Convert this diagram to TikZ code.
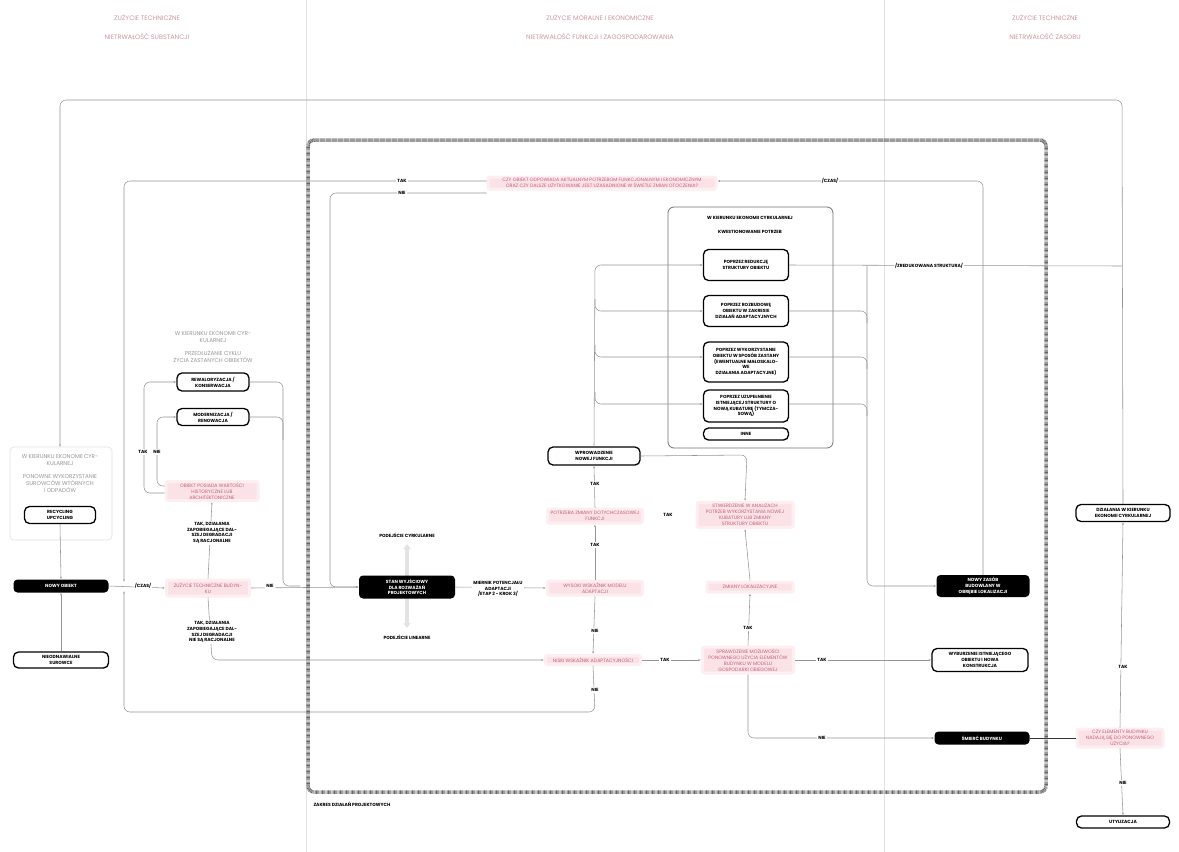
\documentclass[tikz,border=0pt]{standalone}
\usepackage{fontspec}
\setmainfont{Poppins}
\usetikzlibrary{arrows.meta,calc}
\definecolor{pinkbg}{RGB}{251,226,231}
\definecolor{pinkhalo}{RGB}{253,238,241}
\definecolor{pinktx}{RGB}{196,96,120}
\definecolor{hdrtx}{RGB}{205,150,160}
\definecolor{lgray}{RGB}{150,150,150}
\definecolor{vlgray}{RGB}{225,225,225}
\newcommand\fb{\fontsize{4.5}{5.8}\selectfont\bfseries}
\newcommand\fr{\fontsize{4.8}{6}\selectfont}
\newcommand\fg{\fontsize{5.6}{7}\selectfont}
\newcommand\fh{\fontsize{6.5}{8}\selectfont}
\tikzset{
  conn/.style={draw=lgray, line width=0.55pt, rounded corners=6pt},
  arr/.style={-{Latex[length=2.4pt,width=1.8pt]}},
  blk/.style={fill=black, text=white, rounded corners=4pt, align=center, font=\fb, inner sep=1pt},
  wbx/.style={draw=black, line width=1.3pt, fill=white, rounded corners=5pt, align=center, font=\fb, inner sep=1pt},
  pnk/.style={fill=pinkbg, draw=pinkhalo, line width=3pt, text=pinktx, align=center, font=\fr, inner sep=1pt, rounded corners=2pt},
  lab/.style={font=\fb, fill=white, inner sep=1pt, align=center},
  gtx/.style={font=\fg, text=lgray, align=center},
  htx/.style={font=\fh, text=hdrtx, align=center},
  frame/.style={draw=black!60, line width=3.5pt, dash pattern=on 0.6pt off 0.6pt, rounded corners=6pt}
}
\begin{document}
\begin{tikzpicture}[x=1pt,y=-1pt]
\fill[white] (0,0) rectangle (1179,852);
\useasboundingbox (0,0) rectangle (1179,852);

% column dividers
\draw[vlgray, line width=0.6pt] (306,0) -- (306,852);
\draw[vlgray, line width=0.6pt] (884,0) -- (884,852);

% column headers
\node[htx] (hL1) at (147,18) {ZUŻYCIE TECHNICZNE};
\node[htx] (hL2) at (147,36) {NIETRWAŁOŚĆ SUBSTANCJI};
\node[htx] (hM1) at (600,18) {ZUŻYCIE MORALNE I EKONOMICZNE};
\node[htx] (hM2) at (600,36) {NIETRWAŁOŚĆ FUNKCJI I ZAGOSPODAROWANIA};
\node[htx] (hR1) at (1045,18) {ZUŻYCIE TECHNICZNE};
\node[htx] (hR2) at (1045,36) {NIETRWAŁOŚĆ ZASOBU};

% left grey group
\draw[vlgray, line width=0.6pt, rounded corners=4pt] (10,447) rectangle (112,540);
\node[gtx] (gL1) at (60,460) {W KIERUNKU EKONOMII CYR-\\KULARNEJ};
\node[gtx] (gL2) at (60,484) {PONOWNE WYKORZYSTANIE\\SUROWCÓW WTÓRNYCH\\I ODPADÓW};
\coordinate (gtop) at (60,447);

% nodes: left column
\node[wbx, minimum width=71pt, minimum height=17pt] (recyc) at (60,515) {RECYCLING\\UPCYCLING};
\node[blk, minimum width=95pt, minimum height=13pt] (nowy) at (61,586) {NOWY OBIEKT};
\node[wbx, minimum width=95pt, minimum height=16pt] (nieod) at (61,660) {NIEODNAWIALNE\\SUROWCE};

\node[pnk, minimum width=83pt, minimum height=16pt] (zuz) at (208,588) {ZUŻYCIE TECHNICZNE BUDYN-\\KU};
\node[pnk, minimum width=92pt, minimum height=19pt] (obh) at (212,491) {OBIEKT POSIADA WARTOŚCI\\HISTORYCZNE LUB\\ARCHITEKTONICZNE};
\node[gtx] (gM1) at (213,337) {W KIERUNKU EKONOMII CYR-\\KULARNEJ};
\node[gtx] (gM2) at (213,357) {PRZEDŁUŻANIE CYKLU\\ŻYCIA ZASTANYCH OBIEKTÓW};
\node[wbx, minimum width=72pt, minimum height=18pt] (rewal) at (213,382) {REWALORYZACJA /\\KONSERWACJA};
\node[wbx, minimum width=72pt, minimum height=17pt] (modern) at (213,417) {MODERNIZACJA /\\RENOWACJA};

% approach axis and the starting state on top of it
\draw[gray!22, line width=3.5pt, {Triangle[length=5pt,width=7pt]}-{Triangle[length=5pt,width=7pt]}] (407,544) -- (407,628);
\node[blk, minimum width=96pt, minimum height=23pt] (stan) at (407,587) {STAN WYJŚCIOWY\\DLA ROZWAŻAŃ\\PROJEKTOWYCH};
\node[font=\fb] (podc) at (407,535) {PODEJŚCIE CYRKULARNE};
\node[font=\fb] (podl) at (407,637) {PODEJŚCIE LINEARNE};

% nodes: centre
\node[pnk, minimum width=228pt, minimum height=12pt] (qtop) at (602,183) {CZY OBIEKT ODPOWIADA AKTUALNYM POTRZEBOM FUNKCJONALNYM I EKONOMICZNYM\\ORAZ CZY DALSZE UŻYTKOWANIE JEST UZASADNIONE W ŚWIETLE ZMIAN OTOCZENIA?};
\node[pnk, minimum width=95pt, minimum height=14pt] (wys) at (595,588) {WYSOKI WSKAŹNIK MODELU\\ADAPTACJI};
\node[pnk, minimum width=95pt, minimum height=14pt] (zap) at (595,516) {POTRZEBA ZMIANY DOTYCHCZASOWEJ\\FUNKCJI};
\node[wbx, minimum width=92pt, minimum height=18pt] (wpr) at (594,456) {WPROWADZENIE\\NOWEJ FUNKCJI};
\node[pnk, minimum width=95pt, minimum height=9pt] (nis) at (593,660) {NISKI WSKAŹNIK ADAPTACYJNOŚCI};
\node[pnk, minimum width=96pt, minimum height=25pt] (stw) at (745,515) {STWIERDZENIE W ANALIZACH\\POTRZEB WYKORZYSTANIA NOWEJ\\KUBATURY LUB ZMIANY\\STRUKTURY OBIEKTU};
\node[pnk, minimum width=86pt, minimum height=10pt] (zmi) at (750,587) {ZMIANY LOKALIZACYJNE};
\node[pnk, minimum width=91pt, minimum height=26pt] (spr) at (748,660) {SPRAWDZENIE MOŻLIWOŚCI\\PONOWNEGO UŻYCIA ELEMENTÓW\\BUDYNKU W MODELU\\GOSPODARKI OBIEGOWEJ};

% questioning box
\draw[black!55, line width=0.8pt, rounded corners=6pt] (668,207) rectangle (833,448);
\node[font=\fb] (kw1) at (750,218) {W KIERUNKU EKONOMII CYRKULARNEJ};
\node[font=\fb] (kw2) at (750,232) {KWESTIONOWANIE POTRZEB};
\node[wbx, minimum width=85pt, minimum height=31pt] (red) at (746,265) {POPRZEZ REDUKCJĘ\\STRUKTURY OBIEKTU};
\node[wbx, minimum width=85pt, minimum height=31pt] (roz) at (746,311) {POPRZEZ ROZBUDOWĘ\\OBIEKTU W ZAKRESIE\\DZIAŁAŃ ADAPTACYJNYCH};
\node[wbx, minimum width=85pt, minimum height=40pt] (wyk) at (746,362) {POPRZEZ WYKORZYSTANIE\\OBIEKTU W SPOSÓB ZASTANY\\(EWENTUALNE MAŁOSKALO-\\WE\\DZIAŁANIA ADAPTACYJNE)};
\node[wbx, minimum width=85pt, minimum height=32pt] (uzu) at (746,406) {POPRZEZ UZUPEŁNIENIE\\ISTNIEJĄCEJ STRUKTURY O\\NOWĄ KUBATURĘ (TYMCZA-\\SOWĄ)};
\node[wbx, minimum width=85pt, minimum height=12pt] (inne) at (746,434) {INNE};

% nodes: right
\node[blk, minimum width=93pt, minimum height=22pt] (nzas) at (983,586) {NOWY ZASÓB\\BUDOWLANY W\\OBRĘBIE LOKALIZACJI};
\node[wbx, minimum width=96pt, minimum height=23pt] (wyb) at (980,660) {WYBURZENIE ISTNIEJĄCEGO\\OBIEKTU I NOWA\\KONSTRUKCJA};
\node[blk, minimum width=95pt, minimum height=13pt] (smi) at (982,738) {ŚMIERĆ BUDYNKU};
\node[pnk, minimum width=86pt, minimum height=18pt] (czy) at (1120,738) {CZY ELEMENTY BUDYNKU\\NADAJĄ SIĘ DO PONOWNEGO\\UŻYCIA?};
\node[wbx, minimum width=94pt, minimum height=17pt] (dzi) at (1123,513) {DZIAŁANIA W KIERUNKU\\EKONOMII CYRKULARNEJ};
\node[wbx, minimum width=93pt, minimum height=12pt] (uty) at (1123,822) {UTYLIZACJA};

% connectors
\draw[conn, arr] (dzi.north) -- (1122,100) -- (60,100) -- (gtop);
\draw[conn, arr] (recyc.south) -- (nowy.north);
\draw[conn, arr] (nieod.north) -- (nowy.south);
\draw[conn, arr] (nowy.east) -- (zuz.west);
\draw[conn, arr] (zuz.east) -- (stan.west);
\draw[conn, arr] (zuz.north) -- (obh.south);
\draw[conn, arr] (zuz.south) -- (212,660) -- (nis.west);
\draw[conn, arr] ($(obh.west)+(0,2)$) -- (144,493) -- (144,382) -- (rewal.west);
\draw[conn, arr] ($(obh.west)+(0,-5)$) -- (157,486) -- (157,417) -- (modern.west);
\draw[conn] (rewal.east) -- (283,382) -- (283,586) -- (300,586);
\draw[conn] (modern.east) -- (283,417) -- (283,440);
\draw[conn, arr] ($(qtop.west)+(0,-2)$) -- (124,181) -- (124,582);
\draw[conn, arr] ($(qtop.west)+(0,10)$) -- (330,193) -- (330,587) -- (stan.west);
\draw[conn, arr] (nzas.north) -- (983,181) -- ($(qtop.east)+(0,-2)$);
\draw[conn, arr] (nis.south) -- (595,712) -- (124,712) -- (124,591);
\draw[conn, arr] (stan.east) -- (wys.west);
\draw[conn, arr] (wys.south) -- (nis.north);
\draw[conn, arr] (wys.north) -- (zap.south);
\draw[conn, arr] (zap.north) -- (wpr.south);
\draw[conn, arr] (wpr.north) -- (595,265) -- (red.west);
\draw[conn, arr] (595,299) -- (595,311) -- (roz.west);
\draw[conn, arr] (595,345) -- (595,357) -- ($(wyk.west)+(0,-5)$);
\draw[conn, arr] (595,392) -- (595,404) -- ($(uzu.west)+(0,-2)$);
\draw[conn] (red.east) -- (1122,266);
\draw[conn, arr] (867,266) -- (867,586) -- (nzas.west);
\draw[conn] (roz.east) -- (867,311) -- (867,323);
\draw[conn] ($(wyk.east)+(0,-5)$) -- (867,357) -- (867,369);
\draw[conn] ($(uzu.east)+(0,-2)$) -- (867,404) -- (867,416);
\draw[conn, arr] (wpr.east) -- (747,455) -- (stw.north);
\draw[conn, arr] (zmi.north) -- (stw.south);
\draw[conn, arr] (spr.north) -- (zmi.south);
\draw[conn, arr] (nis.east) -- (spr.west);
\draw[conn, arr] (spr.east) -- (wyb.west);
\draw[conn, arr] (spr.south) -- (748,738) -- (smi.west);
\draw[black!80, line width=0.8pt] (smi.east) -- (czy.west);
\draw[conn, arr] (czy.north) -- (dzi.south);
\draw[conn, arr] (czy.south) -- (uty.north);

% project scope frame
\draw[frame] (308,140) rectangle (1046,792);
\node[font=\fb, anchor=west] (zakres) at (310,804) {ZAKRES DZIAŁAŃ PROJEKTOWYCH};

% connector labels
\node[lab] (t1) at (212,533) {TAK, DZIAŁANIA\\ZAPOBIEGAJĄCE DAL-\\SZEJ DEGRADACJI\\SĄ RACJONALNE};
\node[lab] (t2) at (212,632) {TAK, DZIAŁANIA\\ZAPOBIEGAJĄCE DAL-\\SZEJ DEGRADACJI\\NIE SĄ RACJONALNE};
\node[lab] (cz1) at (143,586) {/CZAS/};
\node[lab] (n1) at (270,586) {NIE};
\node[lab] (t3) at (143,452) {TAK};
\node[lab] (n2) at (157,452) {NIE};
\node[lab] (t4) at (402,181) {TAK};
\node[lab] (n3) at (402,193) {NIE};
\node[lab] (cz2) at (830,181) {/CZAS/};
\node[lab] (zs) at (929,266) {/ZREDUKOWANA STRUKTURA/};
\node[lab] (mier) at (498,589) {MIERNIK POTENCJAŁU\\ADAPTACJI\\/ETAP 2 - KROK 3/};
\node[lab] (t5) at (595,484) {TAK};
\node[lab] (t6) at (595,545) {TAK};
\node[lab] (t7) at (668,515) {TAK};
\node[lab] (n4) at (595,631) {NIE};
\node[lab] (n5) at (595,690) {NIE};
\node[lab] (t8) at (748,628) {TAK};
\node[lab] (t9) at (665,660) {TAK};
\node[lab] (t10) at (822,660) {TAK};
\node[lab] (n6) at (822,738) {NIE};
\node[lab] (t11) at (1123,667) {TAK};
\node[lab] (n7) at (1123,783) {NIE};
\end{tikzpicture}
\end{document}
